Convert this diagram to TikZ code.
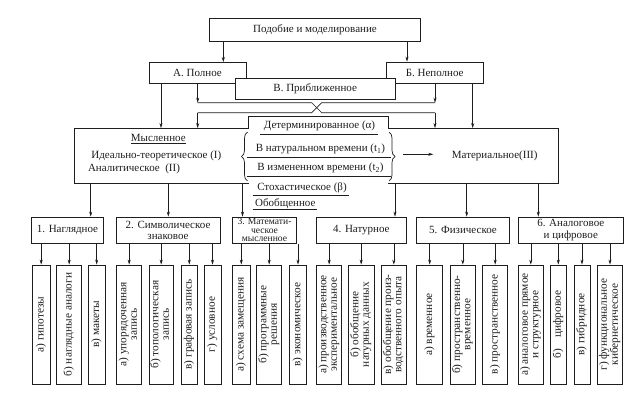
\documentclass[tikz,border=0pt]{standalone}
\usepackage{fontspec}
\setmainfont{Liberation Serif}
\usetikzlibrary{arrows.meta,decorations.pathreplacing,calc}
\definecolor{ink}{RGB}{30,30,30}
\newcommand\vt[1]{\rotatebox{90}{\fontsize{11.3}{10.4}\selectfont\begin{tabular}{@{}c@{}}#1\end{tabular}}}
\begin{document}
\begin{tikzpicture}[x=1pt,y=-1pt,
  line/.style={draw=ink, line width=0.7pt},
  box/.style={draw=ink, line width=0.8pt, fill=white, inner sep=0pt, align=center, text=ink,
    font=\fontsize{11}{11.5}\selectfont},
  sub/.style={box, minimum height=119pt},
  arr/.style={draw=ink, line width=0.6pt, -{Stealth[length=5pt,width=3pt]}},
  lbl/.style={inner sep=0pt, text=ink, font=\fontsize{11}{12}\selectfont},
]
\fill[white] (0,0) rectangle (642,407);
\useasboundingbox (0,0) rectangle (642,407);

% top levels
\node[box, minimum width=211.4pt, minimum height=22.7pt, line width=1pt] (top) at (315,29.7) {Подобие и моделирование};
\node[box, minimum width=97pt, minimum height=21pt] (A) at (197.5,73) {А. Полное};
\node[box, minimum width=97.3pt, minimum height=21.5pt] (B) at (434.7,72.8) {Б. Неполное};
\node[box, minimum width=160.5pt, minimum height=21pt] (V) at (315.2,88.8) {В. Приближенное};

\draw[arr] (223.3,0 |- top.south) -- (223.3,0 |- A.north);
\draw[arr] (407,0 |- top.south) -- (407,0 |- B.north);

% big frame regions
\node[minimum width=173.3pt, minimum height=54.4pt, inner sep=0pt] (mysl) at (161.65,155.5) {};
\node[minimum width=170pt, minimum height=54.4pt, inner sep=0pt] (mat) at (473.3,155.5) {};
\draw[line, line width=0.8pt] (mysl.south east) -- (mysl.south west) -- (mysl.north west) -- (mysl.north east)
  -- (mysl.north east |- 0,116.7) -- (mat.north west |- 0,116.7) -- (mat.north west) -- (mat.north east)
  -- (mat.south east) -- (mat.south west);

% crossing connectors
\coordinate (ul) at (197.7,102.7);
\coordinate (ur) at (435,102.7);
\coordinate (ll) at (197.7,112.7);
\coordinate (lr) at (435,112.7);
\draw[arr] (161,0 |- A.south) -- (161,0 |- mysl.north);
\draw[arr] (ul |- A.south) -- (ul);
\draw[arr] (ur |- B.south) -- (ur);
\draw[arr] (472.7,0 |- B.south) -- (472.7,0 |- mat.north);
\draw[line] (ul) -- (311.7,102.7) -- (321.7,112.7) -- (lr);
\draw[line] (ur) -- (321.7,102.7) -- (311.7,112.7) -- (ll);
\draw[arr] (ll) -- (ll |- mysl.north);
\draw[arr] (lr) -- (lr |- mat.north);

% left texts
\node[lbl] (myslT) at (158.3,139) {\underline{Мысленное}};
\node[lbl] (ideal) at (156.3,156) {Идеально-теоретическое (I)};
\node[lbl] (anal) at (134,169.3) {Аналитическое\ \ (II)};

% middle texts
\node[lbl] (det) at (319.5,125.7) {Детерминированное (α)};
\draw[line, line width=0.6pt] (260,134) -- (378.3,134);
\node[lbl] (nat) at (320.5,149.3) {В натуральном времени\ (t\textsubscript{1})};
\draw[line, line width=0.6pt] (246.7,157.7) -- (390.7,157.7);
\node[lbl] (izm) at (320.5,168.3) {В измененном времени\ (t\textsubscript{2})};
\draw[line, line width=0.6pt] (246.7,176) -- (390.7,176);
\node[lbl] (sto) at (302,187.3) {Стохастическое\ (β)};
\draw[line, line width=0.6pt] (252.7,195) -- (349.3,195);
\node[lbl] (obo) at (285.3,204) {Обобщенное};
\draw[line, line width=0.6pt] (252.7,209.3) -- (316.7,209.3);

% braces
\draw[line, decorate, decoration={brace, amplitude=6pt}] (247.5,181) -- (247.5,132);
\draw[line, decorate, decoration={brace, amplitude=6pt}] (389,132) -- (389,181);

% material
\coordinate (brtip) at (403.3,154.3);
\coordinate (matin) at (433.3,154.3);
\draw[arr] (brtip) -- (matin);
\node[lbl] (matT) at (494.7,156) {Материальное(III)};

% second row
\node[box, minimum width=71.6pt, minimum height=26.3pt] (b1) at (67.5,230.2) {1. Наглядное};
\node[box, minimum width=104pt, minimum height=26.3pt] (b2) at (168,230.2) {2. Символическое\\знаковое};
\node[box, minimum width=64.4pt, minimum height=26.3pt, font=\fontsize{9.6}{8.6}\selectfont] (b3) at (264.5,230.2) {3. Математи-\\ческое\\мысленное};
\node[box, minimum width=89.3pt, minimum height=26.3pt] (b4) at (361.35,230.2) {4. Натурное};
\node[box, minimum width=92.6pt, minimum height=26.3pt] (b5) at (463,230.2) {5. Физическое};
\node[box, minimum width=105pt, minimum height=26.3pt] (b6) at (570.8,230.2) {6. Аналоговое\\и цифровое};

\draw[arr] (90.7,0 |- mysl.south) -- (90.7,0 |- b1.north);
\draw[arr] (168.3,0 |- mysl.south) -- (168.3,0 |- b2.north);
\draw[arr] (242.5,0 |- mysl.south) -- (242.5,0 |- b3.north);
\draw[arr] (395,0 |- mat.south) -- (395,0 |- b4.north);
\draw[arr] (466.7,0 |- mat.south) -- (466.7,0 |- b5.north);
\draw[arr] (538.3,0 |- mat.south) -- (538.3,0 |- b6.north);

% bottom row
\node[sub, minimum width=17.7pt] (s1a) at (41.2,324.5) {\vt{а) гипотезы}};
\node[sub, minimum width=25pt] (s1b) at (69.2,324.5) {\vt{б) наглядные аналоги}};
\node[sub, minimum width=16.7pt] (s1c) at (96.7,324.5) {\vt{в) макеты}};
\node[sub, minimum width=25pt] (s2a) at (129.2,324.5) {\vt{а) упорядоченная\\запись}};
\node[sub, minimum width=24.3pt] (s2b) at (161.2,324.5) {\vt{б) топологическая\\запись}};
\node[sub, minimum width=16.7pt] (s2c) at (189.3,324.5) {\vt{в) графовая запись}};
\node[sub, minimum width=17pt] (s2d) at (212.5,324.5) {\vt{г) условное}};
\node[sub, minimum width=17.3pt] (s3a) at (241.3,324.5) {\vt{а) схема замещения}};
\node[sub, minimum width=25pt] (s3b) at (269.2,324.5) {\vt{б) программные\\решения}};
\node[sub, minimum width=17.3pt] (s3c) at (298,324.5) {\vt{в) экономическое}};
\node[sub, minimum width=25pt] (s4a) at (329.2,324.5) {\vt{а) производственное\\экспериментальное}};
\node[sub, minimum width=25.7pt] (s4b) at (361.2,324.5) {\vt{б) обобщение\\натурных данных}};
\node[sub, minimum width=24.3pt] (s4c) at (393.8,324.5) {\vt{в) обобщение произ-\\водственного опыта}};
\node[sub, minimum width=26pt] (s5a) at (429.7,324.5) {\vt{а) временное}};
\node[sub, minimum width=25.7pt] (s5b) at (462.8,324.5) {\vt{б) пространственно-\\временное}};
\node[sub, minimum width=25pt] (s5c) at (495.2,324.5) {\vt{в) пространственное}};
\node[sub, minimum width=25pt] (s6a) at (530.8,324.5) {\vt{а) аналоговое прямое\\и структурное}};
\node[sub, minimum width=16.7pt] (s6b) at (558.3,324.5) {\vt{б)\quad цифровое}};
\node[sub, minimum width=16pt] (s6c) at (582,324.5) {\vt{в) гибридное}};
\node[sub, minimum width=24.7pt] (s6d) at (610,324.5) {\vt{г) функциональное\\кибернетическое}};

\foreach \s/\b in {s1a/b1,s1b/b1,s1c/b1,s2a/b2,s2b/b2,s2c/b2,s2d/b2,s3a/b3,s3b/b3,s3c/b3,
  s4a/b4,s4b/b4,s4c/b4,s5a/b5,s5b/b5,s5c/b5,s6a/b6,s6b/b6,s6c/b6,s6d/b6}
  \draw[arr] (\s.north |- \b.south) -- (\s.north);
\end{tikzpicture}
\end{document}
